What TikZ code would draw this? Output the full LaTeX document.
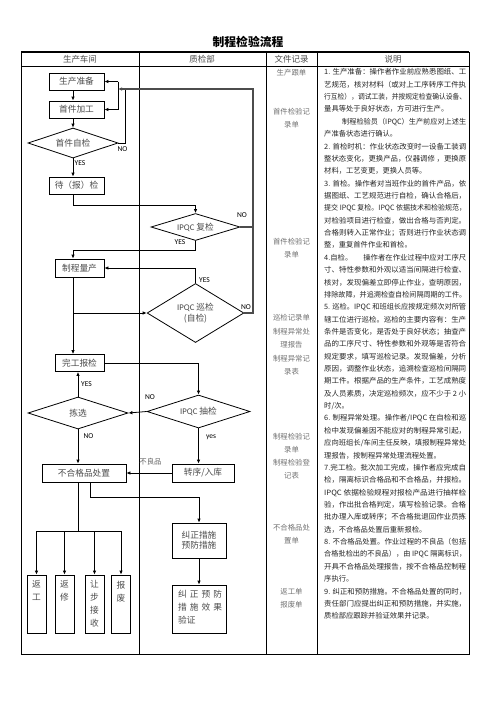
\documentclass[tikz,border=0pt]{standalone}
\usepackage{graphicx}
\usepackage{fontspec}
\setmainfont{Noto Sans CJK SC}
\newfontfamily\lat{Carlito}
\usetikzlibrary{arrows.meta,shapes.geometric,calc}
\newcommand\fl[1]{\resizebox{142pt}{\height}{#1}}
\tikzset{
  ln/.style={line width=0.8pt},
  arr/.style={line width=0.8pt,-{Latex[length=4pt,width=3.5pt]}},
  loopln/.style={line width=1.1pt,draw=black!70},
  box/.style={draw,line width=0.8pt,inner sep=0,font=\fontsize{8.7}{10}\selectfont,text=black!70},
  dia/.style={draw,diamond,aspect=3,inner sep=0,line width=0.8pt,font=\fontsize{8.7}{11}\selectfont,text=black!70,align=center},
  lbl/.style={font=\lat\fontsize{7.5}{8}\selectfont,inner sep=0},
  doc/.style={font=\fontsize{7.4}{13}\selectfont,text=black!55,inner sep=0,align=center},
  head/.style={font=\fontsize{8.5}{10}\selectfont,text=black!70,inner sep=0},
  vtext/.style={font=\fontsize{8.7}{13}\selectfont,text=black!70,inner sep=0,align=center,anchor=north}
}
\begin{document}
\begin{tikzpicture}[x=1pt,y=-1pt]
\useasboundingbox (0,0) rectangle (496,702);
\fill[white] (0,0) rectangle (496,702);
% title
\node[font=\bfseries\fontsize{11.8}{13}\selectfont,inner sep=0] (title) at (248,42) {制程检验流程};
% table
\draw[line width=0.8pt] (21,52) rectangle (469,654);
\draw[line width=2pt] (21,52) -- (469,52);
\draw[line width=0.8pt] (21,66) -- (469,66);
\foreach \x in {139,266,317} \draw[line width=0.8pt] (\x,52) -- (\x,654);
\node[head] (h1) at (80,59) {生产车间};
\node[head] (h2) at (202,59) {质检部};
\node[head] (h3) at (291.5,59) {文件记录};
\node[head] (h4) at (393,59) {说明};
% flow column coordinates
\coordinate (L1) at (73,0);
\coordinate (bar) at (118,89);
% nodes
\node[box,minimum width=55,minimum height=17] (prep) at (76.5,81.5) {生产准备};
\node[box,minimum width=55,minimum height=17] (first) at (76.5,109.5) {首件加工};
\node[dia,minimum width=90,minimum height=30] (selfchk) at (73,143) {首件自检};
\node[box,minimum width=55,minimum height=17] (wait) at (76.5,185.5) {待（报）检};
\node[dia,minimum width=89,minimum height=27] (recheck) at (195.5,227) {{\lat IPQC} 复检};
\node[box,minimum width=49,minimum height=18] (mass) at (79.5,268) {制程量产};
\node[dia,minimum width=89,minimum height=59] (patrol) at (195.5,313) {{\lat IPQC} 巡检\\({\lat }自检)};
\node[box,minimum width=49,minimum height=17] (finalchk) at (79.5,363) {完工报检};
\node[dia,minimum width=103,minimum height=33] (sample) at (198.5,411.5) {{\lat IPQC} 抽检};
\node[dia,minimum width=100,minimum height=32] (pick) at (78,413) {拣选};
\node[box,minimum width=84,minimum height=18] (ncp) at (84,473) {不合格品处置};
\node[box,minimum width=62,minimum height=18] (transfer) at (203,473) {转序/入库};
\node[box,minimum width=54,minimum height=35,align=left] (corr) at (199,540.5) {纠正措施\\预防措施};
\node[box,minimum width=54,minimum height=48] (verify) at (199,609) {};
\node[font=\fontsize{8.7}{13}\selectfont,text=black!70,inner sep=0,align=left,anchor=north west] (verifyt) at (178,590.5) {\makebox[44pt][l]{纠\hfill 正\hfill 预\hfill 防}\\\makebox[44pt][l]{措\hfill 施\hfill 效\hfill 果}\\验证};
\node[box,minimum width=19,minimum height=58] (r1) at (36.5,604) {};
\node[box,minimum width=19,minimum height=58] (r2) at (64.5,604) {};
\node[box,minimum width=19,minimum height=58] (r3) at (94.5,604) {};
\node[box,minimum width=19,minimum height=58] (r4) at (121,604) {};
\node[vtext] (r1t) at (36.5,580.5) {返\\工};
\node[vtext] (r2t) at (64.5,580.5) {返\\修};
\node[vtext] (r3t) at (94.5,580.5) {让\\步\\接\\收};
\node[vtext] (r4t) at (121,580.5) {报\\废};
% connectors
\draw[arr] (prep.south -| L1) -- (first.north -| L1);
\draw[arr] (first.south -| L1) -- (selfchk.north);
\draw[arr] (selfchk.south) -- (wait.north -| selfchk.south);
\draw[ln] (selfchk.east) -| (125,89);
\draw[ln] (bar |- prep.east) -- (bar |- first.east);
\draw[arr] (bar |- prep.east) -- (prep.east);
\draw[arr] (bar |- first.east) -- (first.east);
\draw[arr] (wait.south -| L1) -- (73,205) -| (recheck.north);
\draw[loopln] (recheck.east) -- (253,227);
\draw[loopln,-{Latex[length=4pt,width=3.5pt]}] (patrol.east) -| (253,89) -- (bar);
\draw[arr] (recheck.south) -- (195.5,250) -| (mass.north -| L1);
\draw[arr] (patrol.north) |- (mass.east);
\draw[arr] (mass.south -| L1) -- (finalchk.north -| L1);
\draw[arr] (L1 |- patrol.west) -- (patrol.west);
\draw[arr] (finalchk.east) -| (sample.north);
\draw[arr] (sample.west) -- (pick.east);
\draw[arr] (pick.north) -- (finalchk.south -| pick.north);
\draw[arr] (pick.south) -- (ncp.north -| pick.south);
\draw[arr] (sample.south) -- (transfer.north -| sample.south);
\draw[arr] (transfer.west) -- (ncp.east);
\draw[arr] (ncp.south -| 90,0) -- (90,497) -| (corr.north);
\draw[arr] (corr.south) -- (verify.north);
\draw[ln] (ncp.south -| pick.south) -- (78,531);
\draw[ln] (r1.north |- 0,531) -- (r4.north |- 0,531);
\foreach \r in {r1,r2,r3,r4} \draw[arr] (\r.north |- 0,531) -- (\r.north);
% labels
\node[lbl] (n1) at (122.5,149) {NO};
\node[lbl] (y1) at (80,163) {YES};
\node[lbl] (n2) at (242,215) {NO};
\node[lbl] (y2) at (180,242) {YES};
\node[lbl] (y3) at (204.5,280) {YES};
\node[lbl] (n3) at (246,307) {NO};
\node[lbl] (n4) at (150,397) {NO};
\node[lbl] (y4) at (86.5,384) {YES};
\node[lbl] (n5) at (88.5,436) {NO};
\node[lbl] (y5) at (211,437) {yes};
\node[font=\fontsize{7.4}{9}\selectfont,text=black!60,inner sep=0] (bl) at (150.5,462) {不良品};
% documents column
\node[doc] (d1) at (291.5,73) {生产跟单};
\node[doc] (d2) at (291.5,118) {首件检验记\\录单};
\node[doc] (d3) at (291.5,248.5) {首件检验记\\录单};
\node[doc,font=\fontsize{7.4}{13.5}\selectfont] (d4) at (291.5,345) {巡检记录单\\制程异常处\\理报告\\制程异常记\\录表};
\node[doc] (d5) at (291.5,456.5) {制程检验记\\录单\\制程检验登\\记表};
\node[doc] (d6) at (291.5,534) {不合格品处\\置单};
\node[doc] (d7) at (291.5,598.5) {返工单\\报废单};
% description
\node[anchor=north west,inner sep=0,align=left,font=\fontsize{7.3}{12.36}\selectfont,text=black!85] (desc) at (324,68.5) {%
\fl{1. 生产准备：操作者作业前应熟悉图纸、工}\\
\fl{艺规范，核对材料（或对上工序转序工件执}\\
\fl{行互检），调试工装，并按规定检查确认设备、}\\
量具等处于良好状态，方可进行生产。\\
\hspace*{18pt}\resizebox{124pt}{\height}{制程检验员（IPQC）生产前应对上述生}\\
产准备状态进行确认。\\
\fl{2. 首检时机：作业状态改变时一设备工装调}\\
\fl{整状态变化，更换产品，仪器调修 ，更换原}\\
材料，工艺变更，更换人员等。\\
\fl{3. 首检。操作者对当班作业的首件产品，依}\\
\fl{据图纸、工艺规范进行自检，确认合格后，}\\
\fl{提交 IPQC 复检。IPQC 依据技术和检验规范，}\\
\fl{对检验项目进行检查，做出合格与否判定。}\\
\fl{合格则转入正常作业；否则进行作业状态调}\\
整，重复首件作业和首检。\\
\fl{4.自检。\hspace{1.5em}操作者在作业过程中应对工序尺}\\
\fl{寸、特性参数和外观以适当间隔进行检查、}\\
\fl{核对，发现偏差立即停止作业，查明原因，}\\
\fl{排除故障，并追溯检查自检间隔周期的工件。}\\
\fl{5. 巡检。IPQC 和班组长应按规定频次对所管}\\
\fl{辖工位进行巡检。巡检的主要内容有：生产}\\
\fl{条件是否变化，是否处于良好状态；抽查产}\\
\fl{品的工序尺寸、特性参数和外观等是否符合}\\
\fl{规定要求，填写巡检记录。发现偏差，分析}\\
\fl{原因，调整作业状态，追溯检查巡检间隔同}\\
\fl{期工件。根据产品的生产条件，工艺成熟度}\\
\fl{及人员素质，决定巡检频次，应不少于 2 小}\\
时/次。\\
\fl{6. 制程异常处理。操作者/IPQC 在自检和巡}\\
\fl{检中发现偏差因不能应对的制程异常引起，}\\
\fl{应向班组长/车间主任反映，填报制程异常处}\\
理报告，按制程异常处理流程处置。\\
\fl{7.完工检。批次加工完成，操作者应完成自}\\
\fl{检，隔离标识合格品和不合格品，并报检。}\\
\fl{IPQC 依据检验规程对报检产品进行抽样检}\\
\fl{验，作出批合格判定，填写检验记录。合格}\\
\fl{批办理入库或转序；不合格批退回作业员拣}\\
选，不合格品处置后重新报检。\\
\fl{8. 不合格品处置。作业过程的不良品（包括}\\
\fl{合格批检出的不良品），由 IPQC 隔离标识，}\\
\fl{开具不合格品处理报告，按不合格品控制程}\\
序执行。\\
\fl{9. 纠正和预防措施。不合格品处置的同时，}\\
\fl{责任部门应提出纠正和预防措施，并实施，}\\
质检部应跟踪并验证效果并记录。};
\end{tikzpicture}
\end{document}
